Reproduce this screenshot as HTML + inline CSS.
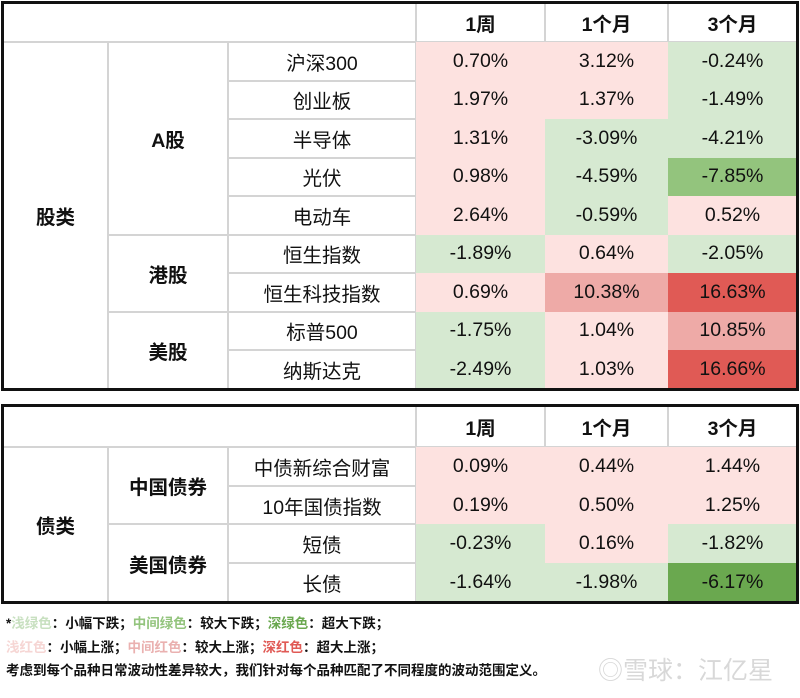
<!DOCTYPE html>
<html><head><meta charset="utf-8">
<style>
body{margin:0;width:800px;height:698px;background:#fff;position:relative;overflow:hidden;font-family:"Liberation Sans","Noto Sans CJK SC",sans-serif;color:#111}
.c{position:absolute;display:flex;align-items:center;justify-content:center;box-sizing:border-box;font-size:19.5px}
.g{border:1px solid #d4d4d4}
.b{font-weight:bold}
.frame{position:absolute;border:3px solid #111;box-sizing:border-box;pointer-events:none}
.note{position:absolute;left:6px;font-size:13.5px;font-weight:bold;font-family:"Liberation Sans","Noto Sans CJK SC",sans-serif}
</style></head><body>
<div id="root"></div>
<div class="note" style="top:612px">*<span style="color:#c8e0c0">浅绿色</span>：小幅下跌；<span style="color:#93c47d">中间绿色</span>：较大下跌；<span style="color:#6aa84f">深绿色</span>：超大下跌；</div>
<div class="note" style="top:636px"><span style="color:#f6d6d4">浅红色</span>：小幅上涨；<span style="color:#eab1b0">中间红色</span>：较大上涨；<span style="color:#e05a55">深红色</span>：超大上涨；</div>
<div class="note" style="top:659px">考虑到每个品种日常波动性差异较大，我们针对每个品种匹配了不同程度的波动范围定义。</div>
<div style="position:absolute;left:598px;top:651px;font-size:25px;color:#d8d8d8">◎雪球：江亿星</div>
<script>
const headers=["1周","1个月","3个月"];
const stockNames=["沪深300","创业板","半导体","光伏","电动车","恒生指数","恒生科技指数","标普500","纳斯达克"];
const stockW=["0.70%","1.97%","1.31%","0.98%","2.64%","-1.89%","0.69%","-1.75%","-2.49%"];
const stockM=["3.12%","1.37%","-3.09%","-4.59%","-0.59%","0.64%","10.38%","1.04%","1.03%"];
const stock3=["-0.24%","-1.49%","-4.21%","-7.85%","0.52%","-2.05%","16.63%","10.85%","16.66%"];
const stockLvW=["r1","r1","r1","r1","r1","g1","r1","g1","g1"];
const stockLvM=["r1","r1","g1","g1","g1","r1","r2","r1","r1"];
const stockLv3=["g1","g1","g1","g2","r1","g1","r3","r2","r3"];
const bondNames=["中债新综合财富","10年国债指数","短债","长债"];
const bondW=["0.09%","0.19%","-0.23%","-1.64%"];
const bondM=["0.44%","0.50%","0.16%","-1.98%"];
const bond3=["1.44%","1.25%","-1.82%","-6.17%"];
const bondLvW=["r1","r1","g1","g1"];
const bondLvM=["r1","r1","r1","g1"];
const bondLv3=["r1","r1","g1","g3"];
const colors={r1:"#fde2e0",r2:"#eeaaa7",r3:"#e05a55",g1:"#d6e9d1",g2:"#93c47d",g3:"#6aa84f"};
const X=[3,108,228,416,545,668,797];
const root=document.getElementById('root');
function cell(x,y,w,h,txt,cls,bg,name,inter){
  const d=document.createElement('div');
  d.className='c '+cls;
  d.style.cssText=`left:${x}px;top:${y}px;width:${w}px;height:${h}px;`+(bg?`background:${bg};`:'');
  d.textContent=txt;
  
  
  root.appendChild(d);return d;
}
function table(top,hh,rh,names,vals,lvls,cat,groups,prefix){
  const n=names.length;
  cell(X[0],top,X[3]-X[0],hh,'','g',null,prefix+'-header-blank',false);
  headers.forEach((h,i)=>cell(X[3+i],top,X[4+i]-X[3+i],hh,h,'g b',null,prefix+'-header-'+i,false));
  const y0=top+hh;
  cell(X[0],y0,X[1]-X[0],rh*n,cat,'g b',null,prefix+'-category',false);
  let r=0;
  groups.forEach(([g,cnt],gi)=>{cell(X[1],y0+r*rh,X[2]-X[1],rh*cnt,g,'g b',null,prefix+'-group-'+gi,false);r+=cnt;});
  names.forEach((nm,i)=>{
    const y=y0+i*rh;
    cell(X[2],y,X[3]-X[2],rh,nm,'g',null,prefix+'-row-label-'+i,false);
    for(let k=0;k<3;k++)cell(X[3+k],y,X[4+k]-X[3+k],rh,vals[k][i],'',colors[lvls[k][i]],prefix+'-value-'+i+'-'+k,false);
  });
  const f=document.createElement('div');f.className='frame';
  f.style.cssText=`left:1px;top:${top-2}px;width:798px;height:${hh+rh*n+4}px`;
  
  
  root.appendChild(f);
}
table(3,39,38.5,stockNames,[stockW,stockM,stock3],[stockLvW,stockLvM,stockLv3],"股类",[["A股",5],["港股",2],["美股",2]],'stock');
table(406,41,38.7,bondNames,[bondW,bondM,bond3],[bondLvW,bondLvM,bondLv3],"债类",[["中国债券",2],["美国债券",2]],'bond');
</script>
</body></html>
